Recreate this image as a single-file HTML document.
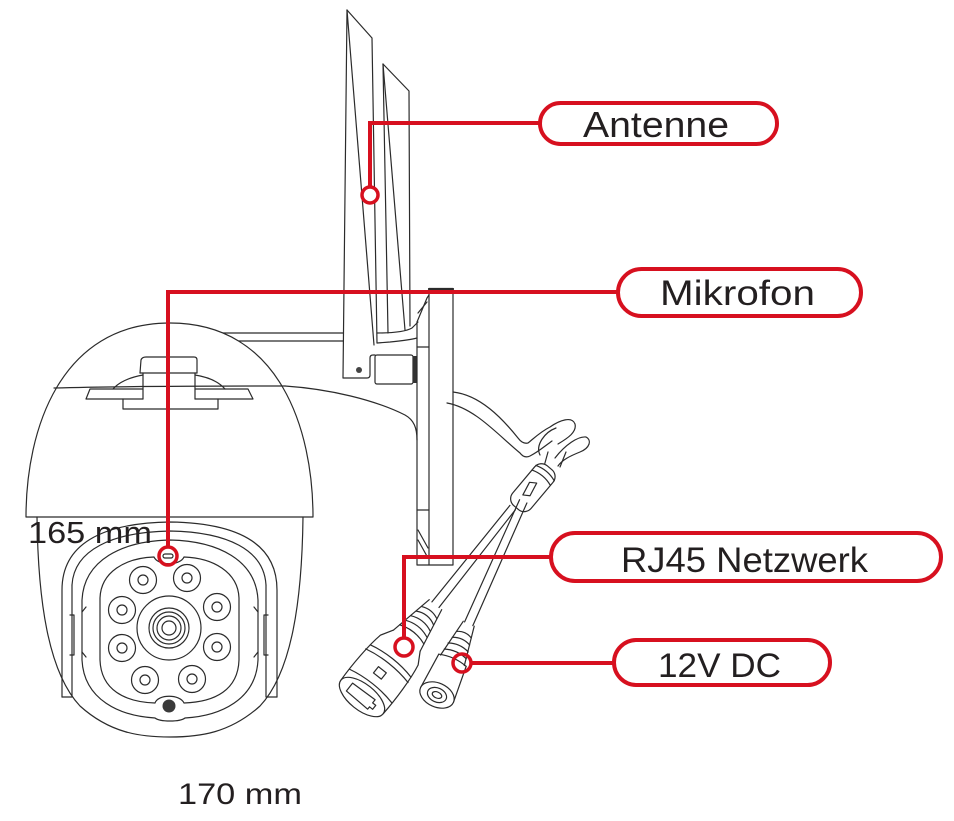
<!DOCTYPE html>
<html>
<head>
<meta charset="utf-8">
<style>
  html,body{margin:0;padding:0;background:#fff;}
  svg{display:block;}
  text{font-family:"Liberation Sans", sans-serif; fill:#231f20;}
</style>
</head>
<body>
<svg width="954" height="821" viewBox="0 0 954 821" xmlns="http://www.w3.org/2000/svg">
  <rect width="954" height="821" fill="#fff"/>

  <g fill="none" stroke="#2b2b2b" stroke-width="1.2" stroke-linejoin="round" stroke-linecap="round">
    <!-- Antenna 1 -->
    <path d="M347,10 L372,38 L377,343"/>
    <path d="M347,10 L343,378 L367,378 Q370,378 370,375 L370,358 Q370,355 373,355 L375,355"/>
    <path d="M347,10 L374,345"/>
    <!-- Antenna 2 -->
    <path d="M383,64 L409,91 L410,326"/>
    <path d="M383,64 L388,333"/>
    <path d="M383,64 L405,330"/>
    <!-- bracket base -->
    <path d="M377,333 C390,333 405,332 412,328 L418,322"/>
    <path d="M377,343 L390,342 C400,341 410,340 417,338"/>
    <!-- hinge -->
    <rect x="375" y="355" width="38" height="29" rx="2"/>
    <rect x="413" y="356" width="3.5" height="27" fill="#333" stroke="none"/>
    <circle cx="359" cy="370" r="3" fill="#444" stroke="none"/>

    <!-- arm -->
    <path d="M222,333 H343"/>
    <path d="M235,341 H343"/>

    <!-- pole -->
    <rect x="429" y="289" width="24" height="276"/>
    <path d="M429,289 H453" stroke-width="2.2"/>
    <path d="M417,322 V565 H429"/>
    <path d="M417,347 H429"/>
    <path d="M417,510 H429"/>
    <path d="M417,322 L427,298 L429,295"/>
    <path d="M418,313 L427,302"/>
    <path d="M418,530 L428,548 M418,540 L428,558"/>

    <!-- dome body extension to pole -->
    <path d="M285,386 C330,389 375,400 405,415 C414,420 417,428 417,440"/>

    <!-- dome -->
    <path d="M26,517 C26,430 60,323 170,323 C280,323 313,430 313,517 Z" fill="#fff"/>
    <path d="M54,388 C130,386 210,386 285,386"/>

    <!-- top bracket -->
    <path d="M140,373 L141,360 Q142,357 146,357 L194,357 Q197,357 197,360 L197,373"/>
    <path d="M140,373 H197"/>
    <path d="M143,373 V399 M195,373 V399"/>
    <path d="M113,389 C120,381 132,377 143,375 M195,375 C208,377 218,381 225,389"/>
    <path d="M143,389 H90 L86,399 H143 M195,389 H248 L253,399 H195"/>
    <path d="M123,399 V409 H218 V399"/>

    <!-- lower housing -->
    <path d="M37,517 C38,600 48,672 80,706 C110,733 140,737 170,737 C200,737 230,733 260,706 C292,672 302,600 303,517"/>
    <path d="M62,697 L62,590 C62,545 100,523 170,522 C240,523 277,545 277,590 L277,697"/>
    <path d="M62,697 L72,697 L72,585 M277,697 L266,697 L266,585"/>
    <path d="M72,585 C74,550 112,532 170,531 C228,532 264,550 266,585"/>
    <path d="M70,615 H74 V655 H70 M268,615 H264 V655 H268"/>

    <!-- front plate -->
    <path d="M82,600 C84,560 122,541 170,540 C218,541 256,560 258,600 L258,660 C256,700 220,716 185,718 C180,722 160,722 155,718 C120,716 84,700 82,660 Z"/>
    <path d="M86,607 L82,612 M86,657 L82,652 M254,607 L258,612 M254,657 L258,652"/>
    <!-- inner face -->
    <path d="M100,598 C101,572 125,558 154,557 C158,566 180,566 184,557 C213,558 238,572 239,598 L239,660 C238,690 215,702 184,703 C180,694 158,694 155,703 C125,702 101,690 100,660 Z"/>

    <!-- LEDs -->
    <circle cx="143" cy="580" r="13.5"/><circle cx="143" cy="580" r="5"/>
    <circle cx="187" cy="578" r="13.5"/><circle cx="187" cy="578" r="5"/>
    <circle cx="122" cy="610" r="13.5"/><circle cx="122" cy="610" r="5"/>
    <circle cx="217" cy="607" r="13.5"/><circle cx="217" cy="607" r="5"/>
    <circle cx="122" cy="648" r="13.5"/><circle cx="122" cy="648" r="5"/>
    <circle cx="217" cy="647" r="13.5"/><circle cx="217" cy="647" r="5"/>
    <circle cx="145" cy="680" r="13.5"/><circle cx="145" cy="680" r="5"/>
    <circle cx="192" cy="679" r="13.5"/><circle cx="192" cy="679" r="5"/>

    <!-- lens -->
    <circle cx="169" cy="628" r="32"/>
    <circle cx="169" cy="628" r="20"/>
    <circle cx="169" cy="628" r="16"/>
    <circle cx="169" cy="628" r="12"/>
    <circle cx="169" cy="628" r="7"/>

    <!-- black dot -->
    <circle cx="169" cy="706" r="6.5" fill="#3a3a3a" stroke="none"/>
    <!-- mic slot -->
    <rect x="163" y="554" width="10" height="4" rx="2"/>

    <!-- cable from pole -->
    <path d="M453,392 C480,395 502,418 518,438 C521,442 524,444 528,443 C532,440 540,432 550,427 C560,420 572,416 575,424 C577,432 568,438 558,444"/>
    <path d="M447,403 C475,408 498,435 520,453 C523,457 526,458 530,456 C538,452 545,446 552,441"/>
    <path d="M540,455 C535,445 545,432 556,428"/>
    <path d="M555,458 C565,445 578,436 586,437 C592,440 590,448 580,452 C570,456 562,460 558,466"/>
    <path d="M543,470 L548,452 M560,467 L566,452"/>

    <!-- splitter -->
    <g transform="translate(520,503) rotate(-50)">
      <rect x="-6" y="-12" width="52" height="24" rx="9" fill="#fff"/>
      <path d="M33,-12 C36,-4 36,4 33,12"/>
      <path d="M39,-12 C42,-4 42,4 39,12"/>
      <path d="M8,-3 L22,-6 L26,0 L12,3 Z"/>
    </g>

    <!-- RJ45 connector -->
    <g transform="translate(362,697) rotate(-51.5)">
      <path d="M118,-4.5 L242,-3.5 M118,4.5 L242,3.5"/>
      <path d="M72,-17 L118,-8 M72,17 L118,8" />
      <path d="M80,-15.5 C84,-5 84,5 80,15.5"/>
      <path d="M87,-14 C91,-5 91,5 87,14"/>
      <path d="M94,-12.5 C98,-4 98,4 94,12.5"/>
      <path d="M101,-11 C105,-4 105,4 101,11"/>
      <path d="M108,-9.5 C111,-3 111,3 108,9.5"/>
      <path d="M0,-27 C20,-28 45,-27 60,-24 L72,-17 M0,27 C20,28 45,27 60,24 L72,17"/>
      <path d="M14,-27 C18,-10 18,10 14,27"/>
      <path d="M40,-27 C44,-10 44,10 40,27"/>
      <path d="M46,-26 C50,-10 50,10 46,26"/>
      <rect x="26" y="-6" width="8" height="10"/>
      <ellipse cx="0" cy="0" rx="13" ry="27" fill="#fff"/>
      <path d="M-5,-16 L5,-16 L6,12 L2,12 L2,16 L-3,16 L-3,12 L-6,12 Z"/>
    </g>

    <!-- DC connector -->
    <g transform="translate(437,695) rotate(-66)">
      <path d="M78,-4.5 L212,-4 M78,4.5 L212,4"/>
      <path d="M38,-13 L78,-6 M38,13 L78,6"/>
      <path d="M45,-12 C48,-4 48,4 45,12"/>
      <path d="M52,-11 C55,-4 55,4 52,11"/>
      <path d="M59,-9.5 C62,-3 62,3 59,9.5"/>
      <path d="M66,-8 C69,-3 69,3 66,8"/>
      <path d="M0,-18 L38,-15 M0,18 L38,15"/>
      <path d="M38,-15 C41,-5 41,5 38,15"/>
      <ellipse cx="0" cy="0" rx="12" ry="18" fill="#fff"/>
      <ellipse cx="0" cy="0" rx="7" ry="10"/>
      <ellipse cx="0" cy="0" rx="3" ry="5"/>
    </g>
  </g>

  <!-- Red leaders and callouts -->
  <g fill="none" stroke="#d7101f" stroke-width="4" stroke-linejoin="miter">
    <path d="M540,123 H370 V186"/>
    <circle cx="370" cy="195" r="8" stroke-width="3.5" fill="#fff"/>

    <path d="M618,292 H168 V546"/>
    <circle cx="168" cy="556" r="9" stroke-width="3.5"/>

    <path d="M551,557 H404 V637"/>
    <circle cx="404" cy="647" r="9" stroke-width="3.5"/>

    <path d="M614,663 H471"/>
    <circle cx="462" cy="663" r="9" stroke-width="3.5"/>

    <rect x="540" y="103" width="237" height="41" rx="20.5" fill="#fff"/>
    <rect x="618" y="269" width="243" height="47" rx="23.5" fill="#fff"/>
    <rect x="551" y="533" width="390" height="48" rx="24" fill="#fff"/>
    <rect x="614" y="640" width="216" height="45" rx="22.5" fill="#fff"/>
  </g>

  <!-- Labels -->
  <text x="583" y="137" font-size="36" textLength="146" lengthAdjust="spacingAndGlyphs">Antenne</text>
  <text x="660" y="305" font-size="35" textLength="155" lengthAdjust="spacingAndGlyphs">Mikrofon</text>
  <text x="621" y="572" font-size="35" textLength="247" lengthAdjust="spacingAndGlyphs">RJ45 Netzwerk</text>
  <text x="658" y="677" font-size="34" textLength="123" lengthAdjust="spacingAndGlyphs">12V DC</text>
  <text x="28" y="543" font-size="31" textLength="124" lengthAdjust="spacingAndGlyphs">165 mm</text>
  <text x="178" y="804" font-size="30" textLength="124" lengthAdjust="spacingAndGlyphs">170 mm</text>
</svg>
</body>
</html>
